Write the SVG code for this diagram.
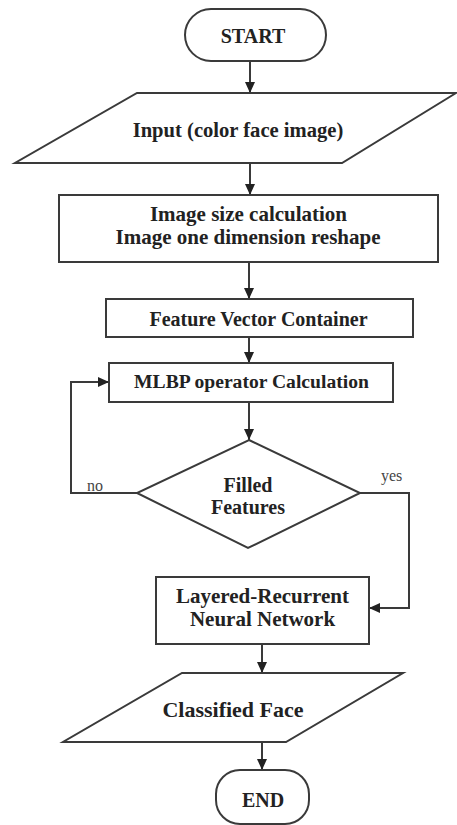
<svg xmlns="http://www.w3.org/2000/svg" width="457" height="825" viewBox="0 0 457 825">
<defs>
<style>
.s{fill:#fff;stroke:#3a3a3a;stroke-width:2}
.t{font-family:"Liberation Serif","Times New Roman",serif;font-weight:bold;font-size:20px;fill:#222;text-anchor:middle}
.b{font-size:21px}
.l{font-family:"Liberation Serif","Times New Roman",serif;font-size:16px;fill:#444}
.c{fill:none;stroke:#3a3a3a;stroke-width:2}
</style>
<marker id="ah" markerWidth="11" markerHeight="10" refX="11" refY="5" orient="auto" markerUnits="userSpaceOnUse">
<path d="M0,0 L11,5 L0,10 Z" fill="#222"/>
</marker>
</defs>
<rect width="457" height="825" fill="#fff"/>
<g id="connectors">
<line class="c" x1="250" y1="61" x2="250" y2="93" marker-end="url(#ah)"/>
<line class="c" x1="250" y1="163" x2="250" y2="195" marker-end="url(#ah)"/>
<line class="c" x1="249" y1="262" x2="249" y2="299" marker-end="url(#ah)"/>
<line class="c" x1="249" y1="337" x2="249" y2="363" marker-end="url(#ah)"/>
<line class="c" x1="249" y1="402" x2="249" y2="440" marker-end="url(#ah)"/>
<polyline class="c" points="137,493 71,493 71,382 109,382" marker-end="url(#ah)"/>
<polyline class="c" points="360,493 409,493 409,608 369,608" marker-end="url(#ah)"/>
<line class="c" x1="262" y1="644" x2="262" y2="673" marker-end="url(#ah)"/>
<line class="c" x1="262" y1="742" x2="262" y2="770" marker-end="url(#ah)"/>
<text class="l" x="87" y="491">no</text>
<text class="l" x="381" y="481">yes</text>
</g>
<g id="start">
<rect class="s" x="185" y="9" width="141" height="52" rx="26"/>
<text class="t" x="253" y="43">START</text>
</g>
<g id="input">
<polygon class="s" points="137,93 456,93 342,163 15,163"/>
<text class="t" x="238" y="137" style="font-size:20.6px">Input (color face image)</text>
</g>
<g id="reshape">
<rect class="s" x="59" y="195" width="379" height="67"/>
<text class="t b" x="248.5" y="220.5">Image size calculation</text>
<text class="t b" x="248" y="243.5">Image one dimension reshape</text>
</g>
<g id="container">
<rect class="s" x="106" y="299" width="307" height="38"/>
<text class="t" x="258.5" y="326">Feature Vector Container</text>
</g>
<g id="mlbp">
<rect class="s" x="109" y="363" width="284" height="39"/>
<text class="t" x="251.5" y="388" style="font-size:19.6px">MLBP operator Calculation</text>
</g>
<g id="filled">
<polygon class="s" points="249,440 360,493 248,548 137,493"/>
<text class="t" x="248" y="492">Filled</text>
<text class="t" x="248" y="514">Features</text>
</g>
<g id="lrnn">
<rect class="s" x="156" y="577" width="213" height="67"/>
<text class="t b" x="262.5" y="603">Layered-Recurrent</text>
<text class="t b" x="262.5" y="626">Neural Network</text>
</g>
<g id="classified">
<polygon class="s" points="182,673 403,673 286,742 63,742"/>
<text class="t" x="233" y="717" style="font-size:22px">Classified Face</text>
</g>
<g id="end">
<rect class="s" x="216" y="770" width="93" height="54" rx="24"/>
<text class="t" x="263" y="807">END</text>
</g>
</svg>
